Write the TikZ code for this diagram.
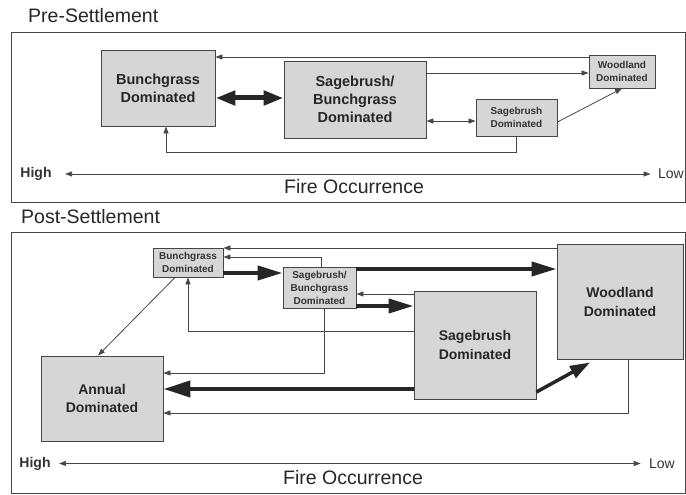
\documentclass[tikz,border=0pt]{standalone}
\usepackage{fontspec}
\setmainfont{Liberation Sans}
\usepackage{tikz}
\usetikzlibrary{arrows.meta, positioning}
\definecolor{boxfill}{RGB}{214,214,214}
\definecolor{inkgray}{RGB}{70,70,70}
\tikzstyle{bigstate} = [rectangle, draw=inkgray, line width=0.9pt, fill=boxfill, text centered, align=center, text=black!85, font=\bfseries\fontsize{14.5}{18}\selectfont]
\tikzstyle{smallstate} = [rectangle, draw=inkgray, line width=0.9pt, fill=boxfill, text centered, align=center, inner sep=1pt, text=black!80, font=\bfseries\fontsize{10}{13}\selectfont]
\tikzstyle{arrow} = [draw=inkgray, line width=0.8pt, ->, >={Triangle[length=7pt,width=5pt]}]
\tikzstyle{bigarrow} = [draw=black!85, line width=4pt, -{Triangle[length=25pt,width=14pt]}]
\tikzstyle{panel} = [draw=inkgray, line width=0.8pt]
\tikzstyle{title} = [anchor=west, inner sep=0pt, text=black!85, font=\fontsize{19.5}{23}\selectfont]
\tikzstyle{axislabel} = [text=black!80, font=\fontsize{14}{16}\selectfont]

\begin{document}
\begin{tikzpicture}[x=1pt, y=-1pt]
    \useasboundingbox (0,0) rectangle (686,495);

    % pre-settlement
    \node (pretitle) [title] at (28,16) {Pre-Settlement};
    \draw [panel] (11,32) rectangle (685,202);

    \node (bunchpre) [bigstate, minimum width=114pt, minimum height=76pt] at (158,88) {Bunchgrass\\Dominated};
    \node (mixpre) [bigstate, minimum width=142pt, minimum height=77pt] at (355,99.5) {Sagebrush/\\Bunchgrass\\Dominated};
    \node (sagepre) [smallstate, minimum width=81pt, minimum height=37pt] at (516.5,117.5) {Sagebrush\\Dominated};
    \node (woodpre) [smallstate, minimum width=66pt, minimum height=33pt] at (622,71.5) {Woodland\\Dominated};

    \draw [line width=5pt, draw=black!85, {Triangle[length=20pt,width=14pt]}-{Triangle[length=20pt,width=14pt]}] (bunchpre.east |- 0,98) -- (mixpre.west |- 0,98);
    \draw [arrow] (woodpre.west |- 0,57) -- (bunchpre.east |- 0,57);
    \draw [arrow] (mixpre.east |- 0,73) -- (woodpre.west |- 0,73);
    \draw [arrow, <->] (mixpre.east |- 0,121) -- (sagepre.west |- 0,121);
    \draw [arrow] (sagepre.east |- 0,122) -- (woodpre.south);
    \draw [arrow] (sagepre.south) -- (sagepre.south |- 0,152) -| ([xshift=8pt]bunchpre.south);

    \node (highpre) [axislabel, font=\bfseries\fontsize{14}{16}\selectfont] at (36,174) {High};
    \node (lowpre) [axislabel] at (671,174) {Low};
    \draw [arrow, <->, shorten <=10pt, shorten >=4pt] (highpre.east) -- (lowpre.west);
    \node (firepre) [title, anchor=center] at (354,187) {Fire Occurrence};

    % post-settlement
    \node (posttitle) [title] at (21,217) {Post-Settlement};
    \draw [panel] (11,232) rectangle (685,493);

    \node (bunchpost) [smallstate, minimum width=70pt, minimum height=29pt] at (188,262.5) {Bunchgrass\\Dominated};
    \node (mixpost) [smallstate, minimum width=73pt, minimum height=41pt] at (319.5,287.5) {Sagebrush/\\Bunchgrass\\Dominated};
    \node (annualpost) [bigstate, minimum width=122pt, minimum height=85pt, font=\bfseries\fontsize{14}{18}\selectfont] at (102,398.5) {Annual\\Dominated};
    \node (sagepost) [bigstate, minimum width=122pt, minimum height=108pt, font=\bfseries\fontsize{14}{19}\selectfont] at (475,345) {Sagebrush\\Dominated};
    \node (woodpost) [bigstate, minimum width=126pt, minimum height=115pt, font=\bfseries\fontsize{14}{19}\selectfont] at (620,301.5) {Woodland\\Dominated};

    \draw [arrow] (woodpost.west |- 0,248) -- (bunchpost.east |- 0,248);
    \draw [arrow] ([xshift=2pt]mixpost.north) |- (bunchpost.east |- 0,257);
    \draw [bigarrow] (bunchpost.east |- 0,273) -- (mixpost.west |- 0,273);
    \draw [bigarrow] (mixpost.east |- 0,269) -- (woodpost.west |- 0,269);
    \draw [arrow] (sagepost.west |- 0,294) -- (mixpost.east |- 0,294);
    \draw [bigarrow] (mixpost.east |- 0,306) -- (sagepost.west |- 0,306);
    \draw [arrow] (sagepost.west |- 0,331) -| (bunchpost.south);
    \draw [arrow] ([xshift=-13pt]bunchpost.south) -- ([xshift=-4pt]annualpost.north);
    \draw [arrow] ([xshift=5pt]mixpost.south) |- (annualpost.east |- 0,373);
    \draw [bigarrow, line width=4.5pt, -{Triangle[length=27pt,width=16pt]}] (sagepost.west |- 0,389) -- (annualpost.east |- 0,389);
    \draw [arrow] ([xshift=8pt]woodpost.south) |- (annualpost.east |- 0,413);
    \draw [bigarrow, line width=3.5pt, -{Triangle[length=20pt,width=13pt]}] (sagepost.east |- 0,392) -- ([xshift=-30pt,yshift=-3pt]woodpost.south);

    \node (highpost) [axislabel, font=\bfseries\fontsize{14}{16}\selectfont] at (35,463.5) {High};
    \node (lowpost) [axislabel] at (662,463.5) {Low};
    \draw [arrow, <->, shorten <=5pt, shorten >=5pt] (highpost.east) -- (lowpost.west);
    \node (firepost) [title, anchor=center] at (353,478) {Fire Occurrence};
\end{tikzpicture}
\end{document}
